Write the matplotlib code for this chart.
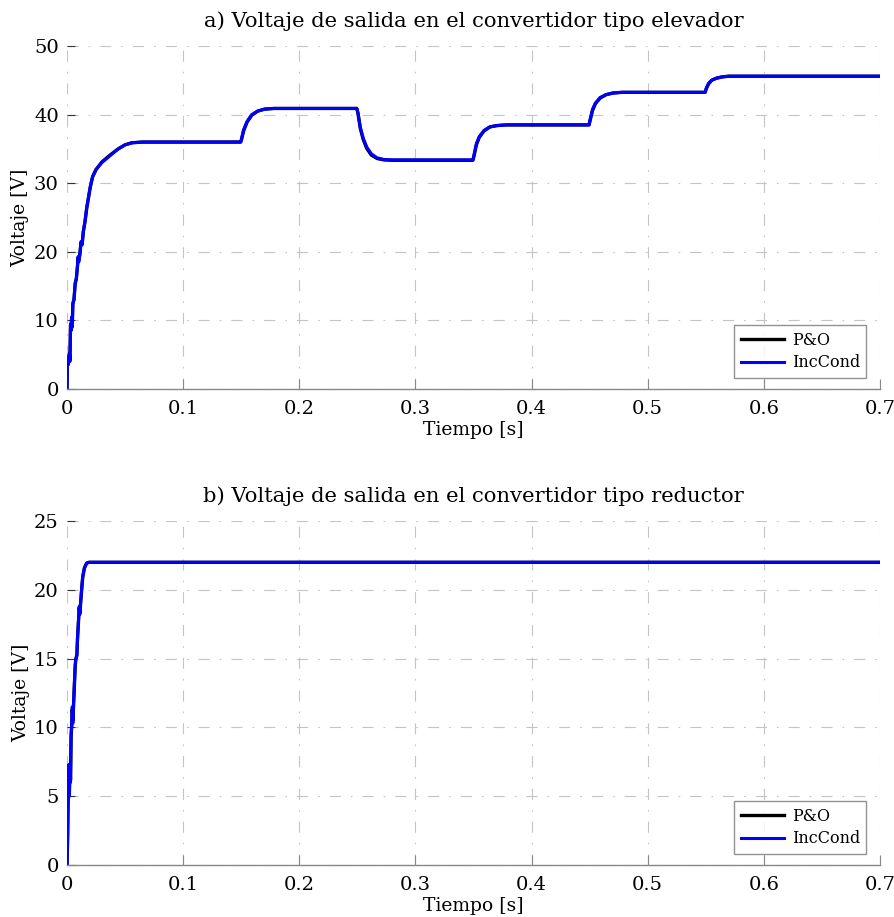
import matplotlib.pyplot as plt

plt.rcParams['font.family'] = ['DejaVu Serif']
plt.rcParams['mathtext.fontset'] = 'dejavuserif'

# Voltaje de salida, convertidor elevador (boost)
t_boost = [0, 0.0003, 0.001, 0.002, 0.0025, 0.003, 0.0035, 0.004, 0.0045, 0.005,
           0.006, 0.007, 0.008, 0.009, 0.0095, 0.010, 0.011, 0.012, 0.013, 0.014,
           0.0155, 0.017, 0.0185, 0.020, 0.022, 0.025, 0.030, 0.037, 0.044, 0.050,
           0.056, 0.065, 0.1495,
           0.150, 0.152, 0.155, 0.159, 0.164, 0.170, 0.178, 0.2495,
           0.2505, 0.2525, 0.255, 0.258, 0.262, 0.267, 0.273, 0.280, 0.3495,
           0.3505, 0.3525, 0.355, 0.359, 0.364, 0.370, 0.378, 0.4495,
           0.4505, 0.4525, 0.455, 0.459, 0.464, 0.470, 0.478, 0.5495,
           0.5505, 0.5525, 0.555, 0.559, 0.564, 0.570, 0.700]
v_inc_boost = [0, 4.5, 3.5, 5.0, 4.0, 9.5, 8.5, 10.5, 9.0, 12.5,
               13.0, 15.5, 16.0, 18.0, 19.3, 18.5, 19.5, 21.5, 21.0, 23.0,
               24.5, 26.5, 28.0, 29.5, 31.0, 32.0, 33.0, 34.0, 35.0, 35.6,
               35.9, 36.0, 36.0,
               36.3, 37.8, 39.0, 40.0, 40.5, 40.8, 40.9, 40.9,
               40.3, 38.2, 36.6, 35.3, 34.3, 33.7, 33.45, 33.4, 33.4,
               34.2, 35.8, 36.8, 37.7, 38.2, 38.4, 38.5, 38.5,
               39.4, 40.8, 41.7, 42.5, 42.9, 43.15, 43.25, 43.25,
               43.9, 44.6, 45.0, 45.3, 45.5, 45.6, 45.6]
v_po_boost = [0, 4.3, 3.6, 5.1, 4.2, 9.3, 8.7, 10.4, 9.2, 12.4,
              13.1, 15.3, 16.1, 17.9, 19.1, 18.6, 19.6, 21.3, 21.1, 22.9,
              24.4, 26.4, 27.9, 29.4, 30.9, 32.0, 33.1, 34.1, 35.0, 35.6,
              35.9, 36.0, 36.0,
              36.2, 37.6, 38.9, 39.9, 40.5, 40.8, 40.9, 40.9,
              40.2, 38.0, 36.4, 35.1, 34.1, 33.6, 33.4, 33.35, 33.35,
              34.0, 35.6, 36.7, 37.6, 38.2, 38.4, 38.5, 38.5,
              39.2, 40.6, 41.6, 42.4, 42.9, 43.15, 43.25, 43.25,
              43.8, 44.5, 45.0, 45.3, 45.5, 45.6, 45.6]

# Voltaje de salida, convertidor reductor (buck)
t_buck = [0, 0.0005, 0.001, 0.0012, 0.0015, 0.002, 0.0025, 0.003, 0.0035, 0.004,
          0.0045, 0.005, 0.0055, 0.006, 0.007, 0.0075, 0.0085, 0.009, 0.010,
          0.0105, 0.011, 0.0115, 0.0125, 0.0135, 0.015, 0.017, 0.019, 0.700]
v_inc_buck = [0, 2.0, 5.5, 4.8, 7.3, 5.0, 7.3, 6.0, 9.5, 10.2,
              11.5, 10.3, 11.5, 12.5, 14.5, 15.0, 15.2, 16.5, 18.0,
              18.8, 18.2, 18.9, 20.0, 21.0, 21.6, 21.95, 22.0, 22.0]
v_po_buck = [0, 1.9, 5.3, 4.9, 7.1, 5.2, 7.2, 6.2, 9.3, 10.1,
             11.3, 10.5, 11.4, 12.4, 14.4, 14.9, 15.3, 16.4, 17.9,
             18.7, 18.3, 18.8, 19.9, 20.9, 21.6, 21.95, 22.0, 22.0]

x_ticks = [0, 0.1, 0.2, 0.3, 0.4, 0.5, 0.6, 0.7]
x_labels = ['0', '0.1', '0.2', '0.3', '0.4', '0.5', '0.6', '0.7']

fig = plt.figure(figsize=(8.95, 9.17), dpi=100)
ax1 = fig.add_axes([0.0749, 0.5758, 0.9083, 0.374])
ax2 = fig.add_axes([0.0749, 0.0567, 0.9083, 0.3751])


def style_axes(ax, ymax, ystep, title):
    ax.set_xlim(0, 0.7)
    ax.set_ylim(0, ymax)
    ax.set_xticks(x_ticks)
    ax.set_xticklabels(x_labels)
    ax.set_yticks(list(range(0, ymax + 1, ystep)))
    for s in ['top', 'right', 'left']:
        ax.spines[s].set_visible(False)
    ax.spines['bottom'].set_color('#888888')
    ax.spines['bottom'].set_linewidth(1.0)
    ax.tick_params(axis='x', direction='in', length=7, color='#888888',
                   labelsize=14, pad=8)
    ax.tick_params(axis='y', direction='in', length=6, color='#333333',
                   labelsize=14, pad=6)
    ax.grid(True, color='#c4c4c4', linewidth=0.8, linestyle=(0, (10, 9, 1.5, 9)))
    ax.set_axisbelow(True)
    ax.set_xlabel('Tiempo [s]', fontsize=13.5, labelpad=2)
    ax.set_ylabel('Voltaje [V]', fontsize=13.5, labelpad=3)
    ax.set_title(title, fontsize=15.2, pad=14)
    leg = ax.legend(loc='lower right', bbox_to_anchor=(0.993, 0.01), fontsize=11.5,
                    frameon=True, fancybox=False, handlelength=2.7,
                    borderpad=0.4, labelspacing=0.35, handletextpad=0.5)
    leg.get_frame().set_edgecolor('#777777')
    leg.get_frame().set_linewidth(1.0)


ax1.plot(t_boost, v_po_boost, color='black', linewidth=2.4, label='P&O')
ax1.plot(t_boost, v_inc_boost, color='#0000ff', linewidth=2.2, label='IncCond')
style_axes(ax1, 50, 10, 'a) Voltaje de salida en el convertidor tipo elevador')

ax2.plot(t_buck, v_po_buck, color='black', linewidth=2.4, label='P&O')
ax2.plot(t_buck, v_inc_buck, color='#0000ff', linewidth=2.2, label='IncCond')
style_axes(ax2, 25, 5, 'b) Voltaje de salida en el convertidor tipo reductor')

fig.savefig('out.png', dpi=100)
